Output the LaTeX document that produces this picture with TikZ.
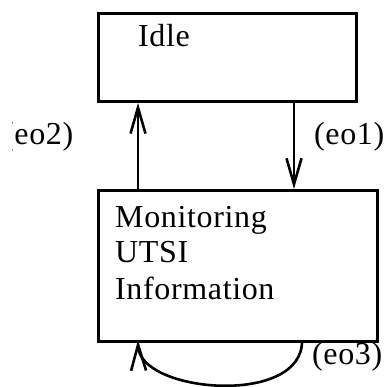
\documentclass[tikz,border=0pt]{standalone}
\usepackage{fontspec}
\setmainfont[LetterSpace=2]{Liberation Serif}
\usetikzlibrary{arrows.meta}
\begin{document}
\begin{tikzpicture}[x=1pt,y=1pt,
  state/.style={draw, line width=2.9pt, inner sep=0pt, rectangle},
  txt/.style={inner sep=0pt, font=\fontsize{32}{36}\selectfont},
  conn/.style={line width=2.6pt, -{Straight Barb[length=26pt,width=15pt,line width=2.6pt]}}]
\useasboundingbox (0,0) rectangle (385,387);
\node[state, minimum width=258pt, minimum height=88pt, anchor=north west] (idle) at (97,375) {};
\node[state, minimum width=279pt, minimum height=151pt, anchor=north west] (mon) at (97,198) {};
\node[txt, anchor=base west] (idletxt) at (138,340) {Idle};
\node[txt, anchor=base west] (montxt1) at (115,159) {Monitoring};
\node[txt, anchor=base west] (montxt2) at (115,124) {UTSI};
\node[txt, anchor=base west] (montxt3) at (115,87) {Information};
\draw[conn] (mon.north west -| 138,0) -- (idle.south west -| 138,0);
\draw[conn] (idle.south west -| 294,0) -- (mon.north west -| 294,0);
\coordinate (loopA) at (302,47);
\coordinate (loopB) at (138,47);
\draw[conn] (loopA) .. controls (304,-20) and (139,-6) .. (loopB);
\begin{scope}
\clip (12,0) rectangle (385,387);
\node[txt, anchor=base west] (eo2) at (3,242) {(eo2)};
\end{scope}
\node[txt, anchor=base west] (eo1) at (314,242) {(eo1)};
\node[txt, anchor=base west] (eo3) at (312,22) {(eo3)};
\end{tikzpicture}
\end{document}
